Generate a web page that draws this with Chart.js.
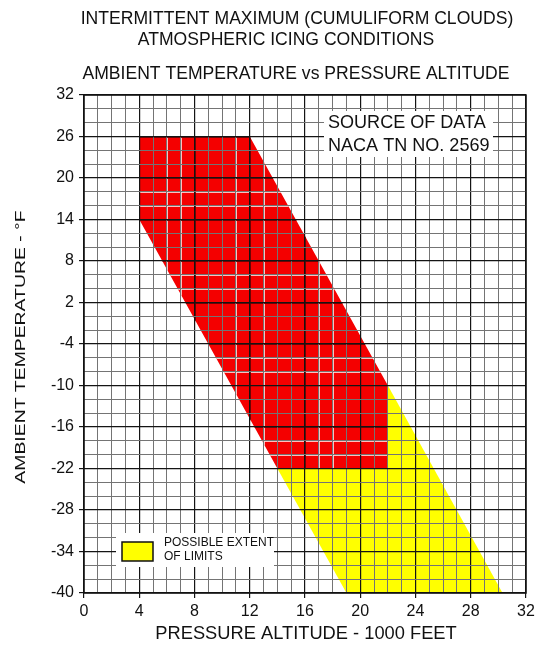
<!DOCTYPE html>
<html lang="en">
<head>
<meta charset="UTF-8">
<title>Atmospheric Icing Conditions</title>
<style>
  html, body { margin: 0; padding: 0; background: #fff; }
  canvas { display: block; }
</style>
</head>
<body>
<canvas id="chart" width="535" height="647"></canvas>
<script src="https://cdn.jsdelivr.net/npm/chart.js"></script>
<script>
// polygon outlines (altitude in 1000 ft, temperature in °F)
const redAlt = [4, 12, 22, 22, 14, 4, 4];
const redTemp = [26, 26, -10, -22, -22, 14, 26];
const yellowAlt = [14, 22, 30.3, 19, 14];
const yellowTemp = [-22, -10, -40, -40, -22];

const xMin = 0, xMax = 32, xMajor = 4;
const yMin = -40, yMax = 32, yMajor = 6;

const titleLines = [
  'INTERMITTENT MAXIMUM (CUMULIFORM CLOUDS)',
  'ATMOSPHERIC ICING CONDITIONS',
  'AMBIENT TEMPERATURE vs PRESSURE ALTITUDE'
];
const sourceLines = ['SOURCE OF DATA', 'NACA TN NO. 2569'];
const legendLines = ['POSSIBLE EXTENT', 'OF LIMITS'];

const FONT = '"Liberation Sans", Arial, sans-serif';

function toPoints(xs, ys) {
  return xs.map((x, i) => ({ x: x, y: ys[i] }));
}

const isMajorX = v => v % xMajor === 0;
const isMajorY = v => (v - yMin) % yMajor === 0;

// text with a bit of stretch, the scan is not square
function drawText(ctx, text, x, y, size, sx, sy, align, angle) {
  ctx.save();
  ctx.translate(x, y);
  if (angle) ctx.rotate(angle);
  ctx.scale(sx, sy);
  ctx.font = size + 'px ' + FONT;
  ctx.textAlign = align;
  ctx.textBaseline = 'middle';
  ctx.fillText(text, 0, 0);
  ctx.restore();
}

// draws the titles, source box and legend
const textPlugin = {
  id: 'texts',
  afterDraw(chart) {
    const ctx = chart.ctx;
    const a = chart.chartArea;
    ctx.save();
    ctx.strokeStyle = '#111';
    ctx.lineWidth = 1.5;
    ctx.strokeRect(a.left, a.top, a.right - a.left, a.bottom - a.top);

    ctx.fillStyle = '#111';
    drawText(ctx, titleLines[0], 297, 19, 18.5, 0.95, 1.0, 'center');
    drawText(ctx, titleLines[1], 286, 40, 18.5, 0.95, 1.0, 'center');
    drawText(ctx, titleLines[2], 296, 74, 18.5, 0.95, 1.0, 'center');

    // source of data box
    ctx.fillStyle = '#fff';
    ctx.fillRect(324, 111, 169, 46);
    ctx.fillStyle = '#111';
    drawText(ctx, sourceLines[0], 328, 123, 19, 0.95, 1.0, 'left');
    drawText(ctx, sourceLines[1], 328, 145.5, 19, 0.95, 1.0, 'left');

    // legend
    ctx.fillStyle = '#fff';
    ctx.fillRect(116, 533, 158, 34);
    ctx.fillStyle = '#ffff00';
    ctx.fillRect(122, 542, 31, 19);
    ctx.strokeStyle = '#111';
    ctx.lineWidth = 1.5;
    ctx.strokeRect(122, 542, 31, 19);
    ctx.fillStyle = '#111';
    drawText(ctx, legendLines[0], 164, 543, 12, 1, 1.05, 'left');
    drawText(ctx, legendLines[1], 164, 557, 12, 1, 1.05, 'left');

    // axis titles
    drawText(ctx, 'PRESSURE ALTITUDE - 1000 FEET', 306, 634, 18.3, 1, 1.05, 'center');
    drawText(ctx, 'AMBIENT TEMPERATURE - °F', 21, 347, 15.5, 1.25, 1, 'center', -Math.PI / 2);
    ctx.restore();
  }
};

// light minor grid lines where they cross the red area
const redGridPlugin = {
  id: 'redGrid',
  afterDatasetsDraw(chart) {
    const { ctx, chartArea: a, scales: { x, y } } = chart;
    ctx.save();
    ctx.beginPath();
    redAlt.forEach((v, i) => {
      const px = x.getPixelForValue(v), py = y.getPixelForValue(redTemp[i]);
      if (i === 0) ctx.moveTo(px, py); else ctx.lineTo(px, py);
    });
    ctx.closePath();
    ctx.clip();
    ctx.lineWidth = 1;
    ctx.strokeStyle = 'rgba(255,225,225,0.85)';
    for (let v = xMin; v <= xMax; v++) {
      if (isMajorX(v)) continue;
      const px = Math.round(x.getPixelForValue(v)) + 0.5;
      ctx.beginPath(); ctx.moveTo(px, a.top); ctx.lineTo(px, a.bottom); ctx.stroke();
    }
    for (let v = yMin; v <= yMax; v += 2) {
      if (isMajorY(v)) continue;
      const py = Math.round(y.getPixelForValue(v)) + 0.5;
      ctx.beginPath(); ctx.moveTo(a.left, py); ctx.lineTo(a.right, py); ctx.stroke();
    }
    ctx.strokeStyle = 'rgba(110,0,0,0.85)';
    for (let v = xMin; v <= xMax; v += xMajor) {
      const px = Math.round(x.getPixelForValue(v)) + 0.5;
      ctx.beginPath(); ctx.moveTo(px, a.top); ctx.lineTo(px, a.bottom); ctx.stroke();
    }
    for (let v = yMin; v <= yMax; v += yMajor) {
      const py = Math.round(y.getPixelForValue(v)) + 0.5;
      ctx.beginPath(); ctx.moveTo(a.left, py); ctx.lineTo(a.right, py); ctx.stroke();
    }
    ctx.restore();
  }
};

const ctx = document.getElementById('chart').getContext('2d');
new Chart(ctx, {
  type: 'scatter',
  data: {
    datasets: [
      {
        label: 'Intermittent maximum',
        data: toPoints(redAlt, redTemp),
        showLine: true,
        fill: 'shape',
        backgroundColor: '#f40000',
        borderWidth: 0,
        pointRadius: 0,
        order: 1
      },
      {
        label: 'Possible extent of limits',
        data: toPoints(yellowAlt, yellowTemp),
        showLine: true,
        fill: 'shape',
        backgroundColor: '#ffff00',
        borderWidth: 0,
        pointRadius: 0,
        order: 2
      }
    ]
  },
  options: {
    responsive: false,
    animation: false,
    layout: { padding: { top: 95, right: 0, left: 0, bottom: 0 } },
    plugins: {
      legend: { display: false },
      tooltip: { enabled: false }
    },
    scales: {
      x: {
        type: 'linear',
        min: xMin,
        max: xMax,
        afterFit: s => { s.height = 54; s.paddingRight = 9; s.paddingLeft = 0; },
        ticks: {
          stepSize: 1,
          autoSkip: false,
          maxRotation: 0,
          padding: 4,
          color: '#111',
          font: { family: FONT, size: 16 },
          callback: v => (isMajorX(v) ? v : '')
        },
        grid: {
          z: 1,
          tickLength: 5,
          color: c => (isMajorX(c.tick.value) ? '#141414' : '#747474'),
          tickColor: c => (isMajorX(c.tick.value) ? '#141414' : 'rgba(0,0,0,0)'),
          lineWidth: c => (isMajorX(c.tick.value) ? 1.2 : 1)
        },
        border: { display: false }
      },
      y: {
        type: 'linear',
        min: yMin,
        max: yMax,
        afterFit: s => { s.width = 84; },
        ticks: {
          stepSize: 2,
          autoSkip: false,
          padding: 5,
          color: '#111',
          font: { family: FONT, size: 16 },
          callback: v => (isMajorY(v) ? v : '')
        },
        grid: {
          z: 1,
          tickLength: 5,
          color: c => (isMajorY(c.tick.value) ? '#141414' : '#747474'),
          tickColor: c => (isMajorY(c.tick.value) ? '#141414' : 'rgba(0,0,0,0)'),
          lineWidth: c => (isMajorY(c.tick.value) ? 1.2 : 1)
        },
        border: { display: false }
      }
    }
  },
  plugins: [redGridPlugin, textPlugin]
});
</script>
</body>
</html>
